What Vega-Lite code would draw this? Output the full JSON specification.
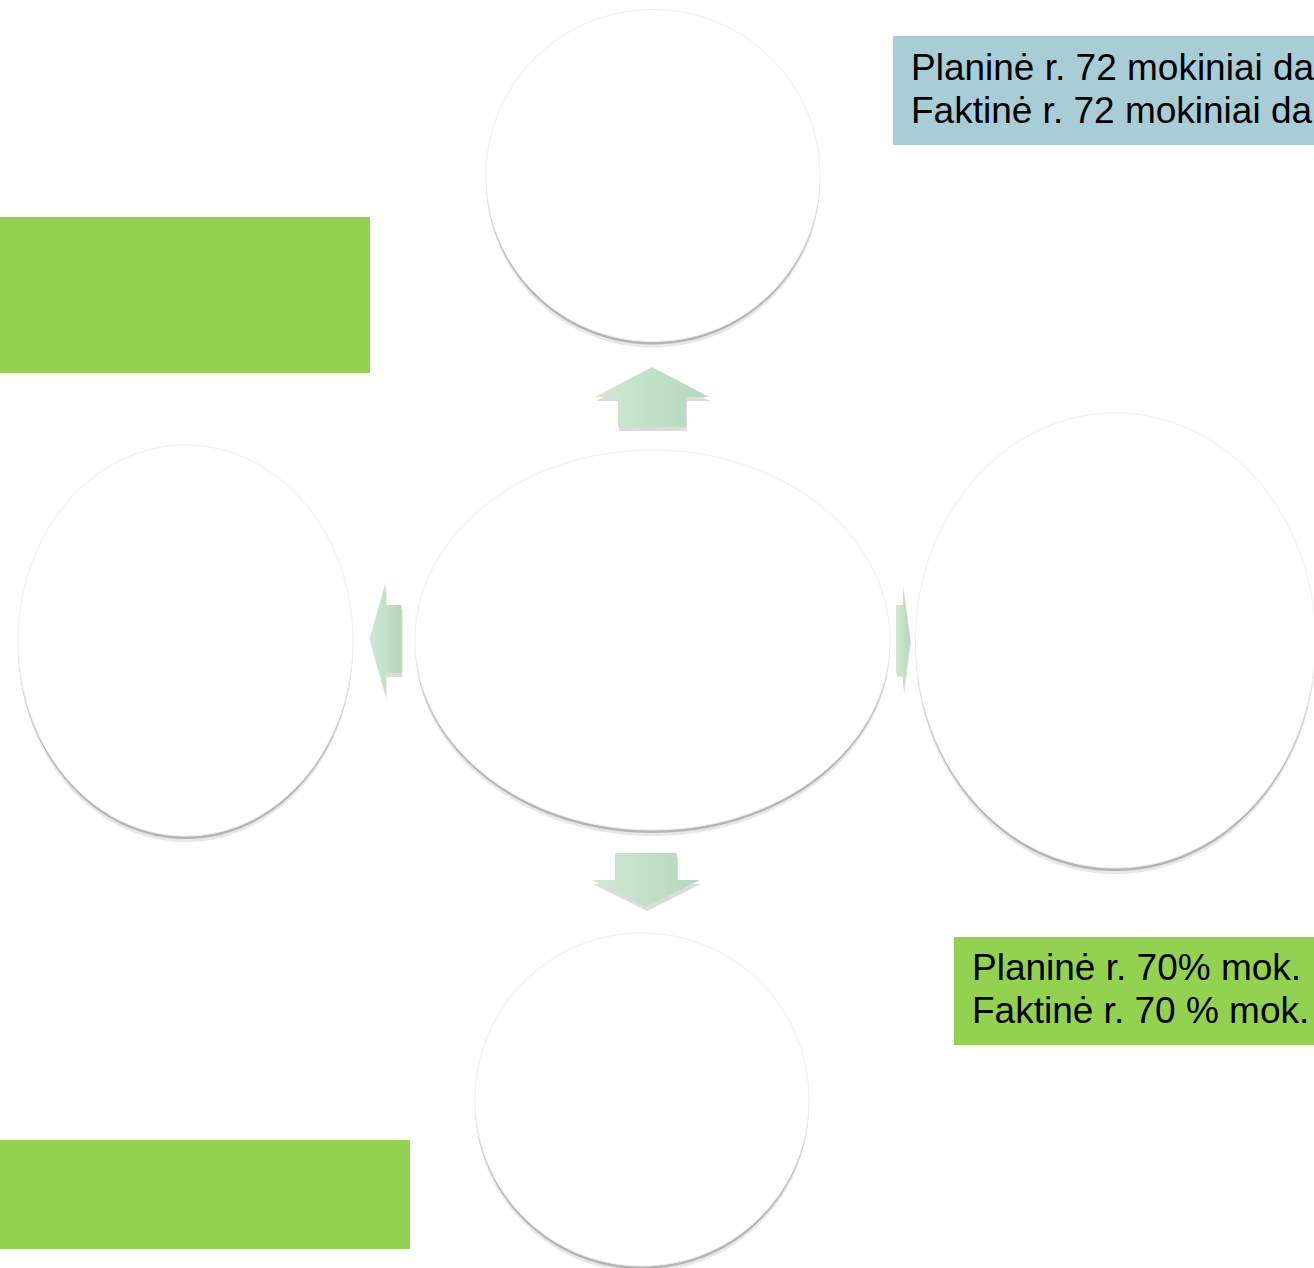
{
  "$schema": "https://vega.github.io/schema/vega-lite/v6.json",
  "width": 1314,
  "height": 1268,
  "padding": 0,
  "autosize": "none",
  "background": "#ffffff",
  "config": {"view": {"stroke": null}},
  "data": {
    "values": [
      {"kind": "box", "id": "blue", "tone": "blue", "x": 893, "x2": 1314, "y": 36, "y2": 145},
      {"kind": "box", "id": "green1", "tone": "green", "x": 0, "x2": 370, "y": 217, "y2": 373},
      {"kind": "box", "id": "green2", "tone": "green", "x": 0, "x2": 410, "y": 1140, "y2": 1249},
      {"kind": "box", "id": "green3", "tone": "green", "x": 954, "x2": 1314, "y": 937, "y2": 1045},
      {"kind": "ellipse", "id": "top", "x": 653, "y": 175.5},
      {"kind": "ellipse", "id": "left", "x": 185.5, "y": 640.5},
      {"kind": "ellipse", "id": "center", "x": 652.5, "y": 640},
      {"kind": "ellipse", "id": "right", "x": 1115.5, "y": 640.5},
      {"kind": "ellipse", "id": "bottom", "x": 642, "y": 1099.5},
      {"kind": "arrow", "id": "up", "x": 652, "y": 397},
      {"kind": "arrow", "id": "down", "x": 646, "y": 880},
      {"kind": "arrow", "id": "toleft", "x": 385.5, "y": 639},
      {"kind": "arrow", "id": "toright", "x": 903, "y": 639},
      {"kind": "text", "id": "t1", "x": 911, "y": 80, "text": "Planinė r. 72 mokiniai da"},
      {"kind": "text", "id": "t2", "x": 911, "y": 123, "text": "Faktinė r. 72 mokiniai da"},
      {"kind": "text", "id": "t3", "x": 972, "y": 980, "text": "Planinė r. 70% mok."},
      {"kind": "text", "id": "t4", "x": 972, "y": 1023, "text": "Faktinė r. 70 % mok."}
    ]
  },
  "encoding": {
    "x": {"field": "x", "type": "quantitative", "scale": {"domain": [0, 1314], "nice": false, "zero": false}, "axis": null},
    "y": {"field": "y", "type": "quantitative", "scale": {"domain": [0, 1268], "nice": false, "zero": false, "reverse": true}, "axis": null}
  },
  "layer": [
    {
      "transform": [{"filter": "datum.kind == 'box'"}],
      "mark": {"type": "rect"},
      "encoding": {
        "x2": {"field": "x2"},
        "y2": {"field": "y2"},
        "color": {"field": "tone", "type": "nominal", "scale": {"domain": ["blue", "green"], "range": ["#A9CDD7", "#93D251"]}, "legend": null}
      }
    },
    {
      "transform": [{"filter": "datum.kind == 'ellipse'"}],
      "mark": {"type": "point", "filled": true, "fill": "#d8d8d8", "opacity": 0.6, "strokeWidth": 0, "yOffset": 6, "size": 4},
      "encoding": {
        "shape": {"field": "id", "type": "nominal", "scale": {"domain": ["top", "left", "center", "right", "bottom", "up", "down", "toleft", "toright"], "range": ["M-167,0A167,166,0,1,1,167,0A167,166,0,1,1,-167,0Z", "M-167.5,0A167.5,195.5,0,1,1,167.5,0A167.5,195.5,0,1,1,-167.5,0Z", "M-237.5,0A237.5,190,0,1,1,237.5,0A237.5,190,0,1,1,-237.5,0Z", "M-200,0A200,227.5,0,1,1,200,0A200,227.5,0,1,1,-200,0Z", "M-167,0A167,166.5,0,1,1,167,0A167,166.5,0,1,1,-167,0Z", "M0,-30L57,0L34,0L34,30L-34,30L-34,0L-57,0Z", "M-31,-27L31,-27L31,0L54,0L0,27L-54,0L-31,0Z", "M-16,0L0,-56L0,-34L16,-34L16,34L0,34L0,56Z", "M7,0L0,52L0,34L-7,34L-7,-34L0,-34L0,-52Z"]}, "legend": null}
      }
    },
    {
      "transform": [{"filter": "datum.kind == 'ellipse'"}],
      "mark": {"type": "point", "filled": true, "fill": "#9a9a9a", "opacity": 0.65, "strokeWidth": 0, "yOffset": 3, "size": 4},
      "encoding": {
        "shape": {"field": "id", "type": "nominal", "scale": {"domain": ["top", "left", "center", "right", "bottom", "up", "down", "toleft", "toright"], "range": ["M-167,0A167,166,0,1,1,167,0A167,166,0,1,1,-167,0Z", "M-167.5,0A167.5,195.5,0,1,1,167.5,0A167.5,195.5,0,1,1,-167.5,0Z", "M-237.5,0A237.5,190,0,1,1,237.5,0A237.5,190,0,1,1,-237.5,0Z", "M-200,0A200,227.5,0,1,1,200,0A200,227.5,0,1,1,-200,0Z", "M-167,0A167,166.5,0,1,1,167,0A167,166.5,0,1,1,-167,0Z", "M0,-30L57,0L34,0L34,30L-34,30L-34,0L-57,0Z", "M-31,-27L31,-27L31,0L54,0L0,27L-54,0L-31,0Z", "M-16,0L0,-56L0,-34L16,-34L16,34L0,34L0,56Z", "M7,0L0,52L0,34L-7,34L-7,-34L0,-34L0,-52Z"]}, "legend": null}
      }
    },
    {
      "transform": [{"filter": "datum.kind == 'ellipse'"}],
      "mark": {"type": "point", "filled": true, "fill": "#ffffff", "opacity": 1, "stroke": "#f0f0f0", "strokeWidth": 1, "size": 4},
      "encoding": {
        "shape": {"field": "id", "type": "nominal", "scale": {"domain": ["top", "left", "center", "right", "bottom", "up", "down", "toleft", "toright"], "range": ["M-167,0A167,166,0,1,1,167,0A167,166,0,1,1,-167,0Z", "M-167.5,0A167.5,195.5,0,1,1,167.5,0A167.5,195.5,0,1,1,-167.5,0Z", "M-237.5,0A237.5,190,0,1,1,237.5,0A237.5,190,0,1,1,-237.5,0Z", "M-200,0A200,227.5,0,1,1,200,0A200,227.5,0,1,1,-200,0Z", "M-167,0A167,166.5,0,1,1,167,0A167,166.5,0,1,1,-167,0Z", "M0,-30L57,0L34,0L34,30L-34,30L-34,0L-57,0Z", "M-31,-27L31,-27L31,0L54,0L0,27L-54,0L-31,0Z", "M-16,0L0,-56L0,-34L16,-34L16,34L0,34L0,56Z", "M7,0L0,52L0,34L-7,34L-7,-34L0,-34L0,-52Z"]}, "legend": null}
      }
    },
    {
      "transform": [{"filter": "datum.kind == 'arrow'"}],
      "mark": {"type": "point", "filled": true, "fill": "#9a9a9a", "opacity": 0.35, "strokeWidth": 0, "yOffset": 4, "xOffset": 1, "size": 4},
      "encoding": {
        "shape": {"field": "id", "type": "nominal", "scale": {"domain": ["top", "left", "center", "right", "bottom", "up", "down", "toleft", "toright"], "range": ["M-167,0A167,166,0,1,1,167,0A167,166,0,1,1,-167,0Z", "M-167.5,0A167.5,195.5,0,1,1,167.5,0A167.5,195.5,0,1,1,-167.5,0Z", "M-237.5,0A237.5,190,0,1,1,237.5,0A237.5,190,0,1,1,-237.5,0Z", "M-200,0A200,227.5,0,1,1,200,0A200,227.5,0,1,1,-200,0Z", "M-167,0A167,166.5,0,1,1,167,0A167,166.5,0,1,1,-167,0Z", "M0,-30L57,0L34,0L34,30L-34,30L-34,0L-57,0Z", "M-31,-27L31,-27L31,0L54,0L0,27L-54,0L-31,0Z", "M-16,0L0,-56L0,-34L16,-34L16,34L0,34L0,56Z", "M7,0L0,52L0,34L-7,34L-7,-34L0,-34L0,-52Z"]}, "legend": null}
      }
    },
    {
      "transform": [{"filter": "datum.kind == 'arrow'"}],
      "mark": {"type": "point", "filled": true, "opacity": 1, "strokeWidth": 0, "size": 4,
        "fill": {"gradient": "linear", "x1": 0, "y1": 0, "x2": 1, "y2": 0, "stops": [{"offset": 0, "color": "#d0ead5"}, {"offset": 1, "color": "#b4d7bc"}]}},
      "encoding": {
        "shape": {"field": "id", "type": "nominal", "scale": {"domain": ["top", "left", "center", "right", "bottom", "up", "down", "toleft", "toright"], "range": ["M-167,0A167,166,0,1,1,167,0A167,166,0,1,1,-167,0Z", "M-167.5,0A167.5,195.5,0,1,1,167.5,0A167.5,195.5,0,1,1,-167.5,0Z", "M-237.5,0A237.5,190,0,1,1,237.5,0A237.5,190,0,1,1,-237.5,0Z", "M-200,0A200,227.5,0,1,1,200,0A200,227.5,0,1,1,-200,0Z", "M-167,0A167,166.5,0,1,1,167,0A167,166.5,0,1,1,-167,0Z", "M0,-30L57,0L34,0L34,30L-34,30L-34,0L-57,0Z", "M-31,-27L31,-27L31,0L54,0L0,27L-54,0L-31,0Z", "M-16,0L0,-56L0,-34L16,-34L16,34L0,34L0,56Z", "M7,0L0,52L0,34L-7,34L-7,-34L0,-34L0,-52Z"]}, "legend": null}
      }
    },
    {
      "transform": [{"filter": "datum.kind == 'text'"}],
      "mark": {"type": "text", "align": "left", "baseline": "alphabetic", "font": "Liberation Sans", "fontSize": 37, "color": "#000000"},
      "encoding": {
        "text": {"field": "text", "type": "nominal"}
      }
    }
  ]
}
